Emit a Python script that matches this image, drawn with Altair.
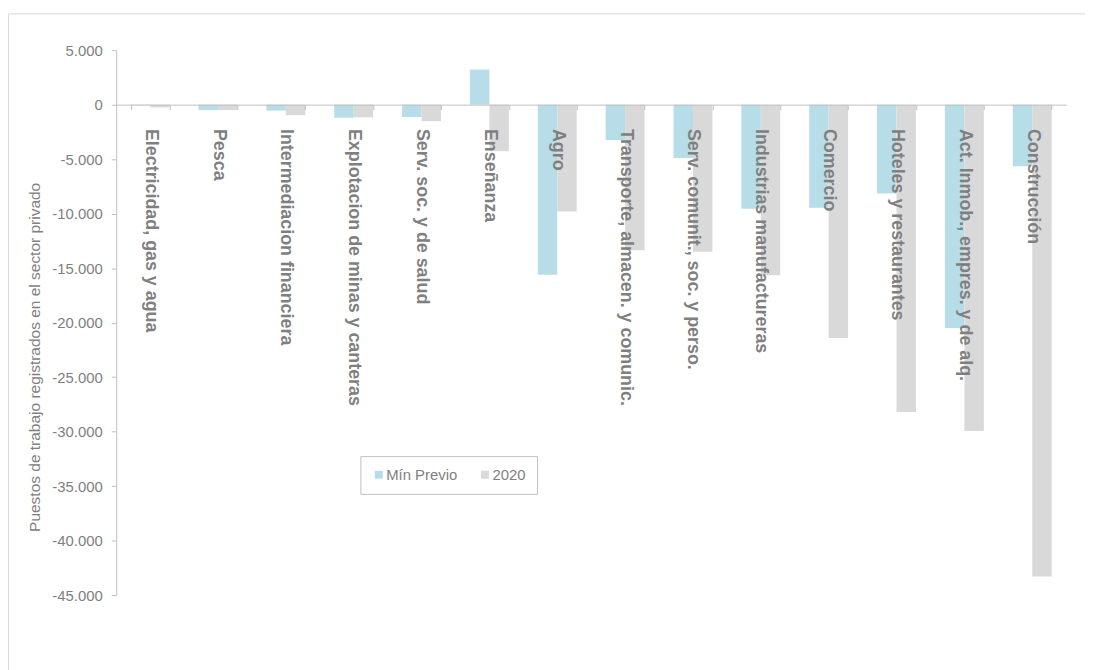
import altair as alt
import pandas as pd

categories = [
    "Electricidad, gas y agua", "Pesca", "Intermediacion financiera",
    "Explotacion de minas y canteras", "Serv. soc. y de salud", "Enseñanza",
    "Agro", "Transporte, almacen. y comunic.", "Serv. comunit., soc. y perso.",
    "Industrias manufactureras", "Comercio", "Hoteles y restaurantes",
    "Act. Inmob., empres. y de alq.", "Construcción",
]
min_previo = [-50, -500, -550, -1200, -1130, 3220, -15600, -3250, -4900,
              -9550, -9450, -8150, -20500, -5650]
v2020 = [-250, -500, -970, -1160, -1520, -4270, -9800, -13350, -13500,
         -15650, -21400, -28200, -29950, -43300]
series = ["Mín Previo", "2020"]
colors = ["#b7dde8", "#d9d9d9"]
y_ticks = list(range(-45000, 5001, 5000))
y_domain = [-45000, 5000]

rows = []
for c, a, b in zip(categories, min_previo, v2020):
    rows.append({"cat": c, "serie": series[0], "valor": a})
    rows.append({"cat": c, "serie": series[1], "valor": b})
df = pd.DataFrame(rows)

W, H = 957, 549
zero_px = H * (y_domain[1] - 0) / (y_domain[1] - y_domain[0])
x_offset = -(H - zero_px)

FONT = "Liberation Sans"
GRAY = "#7f7f7f"
LINE = "#bfbfbf"

frame = alt.Chart(pd.DataFrame({"k": [0]})).mark_rect(
    fillOpacity=0, stroke="#d9d9d9", strokeWidth=1
).encode(
    x=alt.value(-108.5), x2=alt.value(W + 300),
    y=alt.value(-36.5), y2=alt.value(H + 300),
)

bars = alt.Chart(df).mark_bar(strokeWidth=0).encode(
    x=alt.X("cat:N", sort=categories,
            scale=alt.Scale(paddingInner=0.427, paddingOuter=0.2135),
            axis=alt.Axis(title=None, orient="bottom", offset=x_offset,
                          labelAngle=90, labelAlign="left", labelBaseline="middle",
                          labelFontSize=18, labelFontWeight="bold", labelColor=GRAY,
                          labelFont=FONT, labelPadding=19, labelLimit=600,
                          labelOverlap=False, tickBand="extent", tickSize=5,
                          tickColor=LINE, domainColor=LINE, zindex=1)),
    xOffset=alt.XOffset("serie:N", sort=series,
                        scale=alt.Scale(paddingInner=0, paddingOuter=0)),
    y=alt.Y("valor:Q",
            scale=alt.Scale(domain=y_domain, nice=False, zero=False),
            axis=alt.Axis(values=y_ticks, format=",.0f", grid=False,
                          labelFontSize=15, labelColor=GRAY, labelFont=FONT,
                          labelPadding=9, tickSize=5, tickColor=LINE,
                          domainColor=LINE,
                          title="Puestos de trabajo registrados en el sector privado",
                          titleFontSize=15.6, titleFontWeight="normal",
                          titleColor="#808080", titleFont=FONT,
                          titleAngle=270, titleX=-82, titleY=309,
                          titleAlign="center", titleBaseline="middle")),
    color=alt.Color("serie:N", sort=series,
                    scale=alt.Scale(domain=series, range=colors),
                    legend=alt.Legend(title=None, orient="none", legendX=246,
                                      legendY=409, direction="horizontal",
                                      symbolType="square", symbolSize=64,
                                      symbolStrokeWidth=0, labelFontSize=15,
                                      labelColor=GRAY, labelFont=FONT,
                                      labelOffset=0, columnPadding=20,
                                      padding=11, strokeColor=LINE,
                                      fillColor="#ffffff")),
)

chart = alt.layer(frame, bars).properties(
    width=W, height=H,
    padding={"left": 109, "top": 40, "right": 19, "bottom": 73},
    autosize=alt.AutoSizeParams(type="none"),
).configure(
    locale={"number": {"decimal": ",", "thousands": ".", "grouping": [3],
                       "currency": ["", " €"], "minus": "-"}},
).configure_view(stroke=None)

chart.save("out.html", embed_options={"renderer": "svg", "actions": False})
